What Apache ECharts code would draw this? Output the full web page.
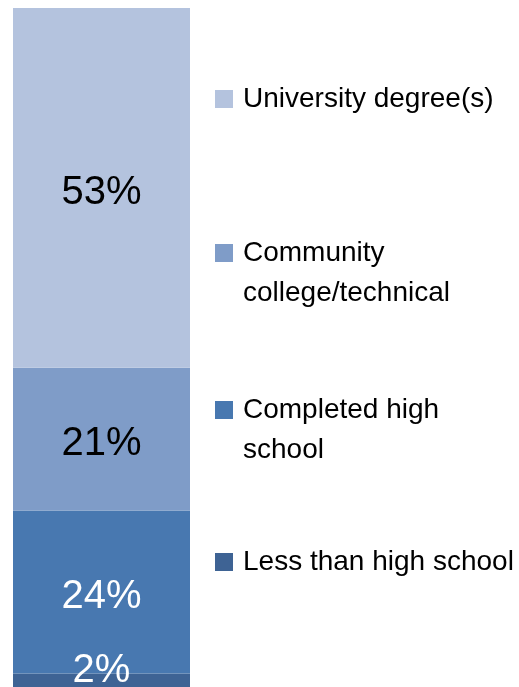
<!DOCTYPE html>
<html>
<head>
<meta charset="utf-8">
<script src="https://cdn.jsdelivr.net/npm/echarts@6/dist/echarts.min.js"></script>
<style>
html,body{margin:0;padding:0;background:#fff;}
#chart{width:519px;height:687px;}
</style>
</head>
<body>
<div id="chart"></div>
<script>
var categories = ['Education'];
var seriesNames = ['Less than high school', 'Completed high school', 'Community college/technical', 'University degree(s)'];
var legendLabels = ['Less than high school', 'Completed high\nschool', 'Community\ncollege/technical', 'University degree(s)'];
var lessThanHigh = [2];
var completedHigh = [24];
var communityCollege = [21];
var university = [53];
var seriesValues = [lessThanHigh, completedHigh, communityCollege, university];

var colors = ['#3E6394', '#4878B0', '#7F9CC8', '#B4C3DE'];
var labelColors = ['#ffffff', '#ffffff', '#000000', '#000000'];
var legendTops = [542, 350, 193, 79];
var FONT = '"Liberation Sans", Arial, sans-serif';

var chart = echarts.init(document.getElementById('chart'));

var series = seriesNames.map(function (name, i) {
  return {
    name: name,
    type: 'bar',
    stack: 'total',
    barWidth: 177,
    data: seriesValues[i],
    itemStyle: { color: colors[i] },
    label: {
      show: true,
      position: 'inside',
      offset: i === 0 ? [0, -9] : [0, 5],
      formatter: '{c}%',
      color: labelColors[i],
      fontSize: 40,
      fontFamily: FONT
    },
    emphasis: { disabled: true },
    animation: false
  };
});

var legends = seriesNames.map(function (name, i) {
  var multi = legendLabels[i].indexOf('\n') >= 0;
  return {
    data: [name],
    orient: 'vertical',
    left: 215,
    top: legendTops[i],
    padding: 0,
    itemWidth: 18,
    itemHeight: 18,
    icon: 'rect',
    selectedMode: false,
    formatter: function () { return multi ? '\n' + legendLabels[i] : legendLabels[i]; },
    textStyle: {
      fontSize: 28,
      fontFamily: FONT,
      color: '#000',
      lineHeight: 40,
      padding: [0, 0, 0, 5]
    }
  };
});

chart.setOption({
  backgroundColor: '#fff',
  animation: false,
  grid: { left: 13, top: 8, width: 177, height: 681 },
  xAxis: { type: 'category', data: categories, show: false },
  yAxis: { type: 'value', min: 0, max: 100, show: false },
  legend: legends,
  series: series
});
</script>
</body>
</html>
